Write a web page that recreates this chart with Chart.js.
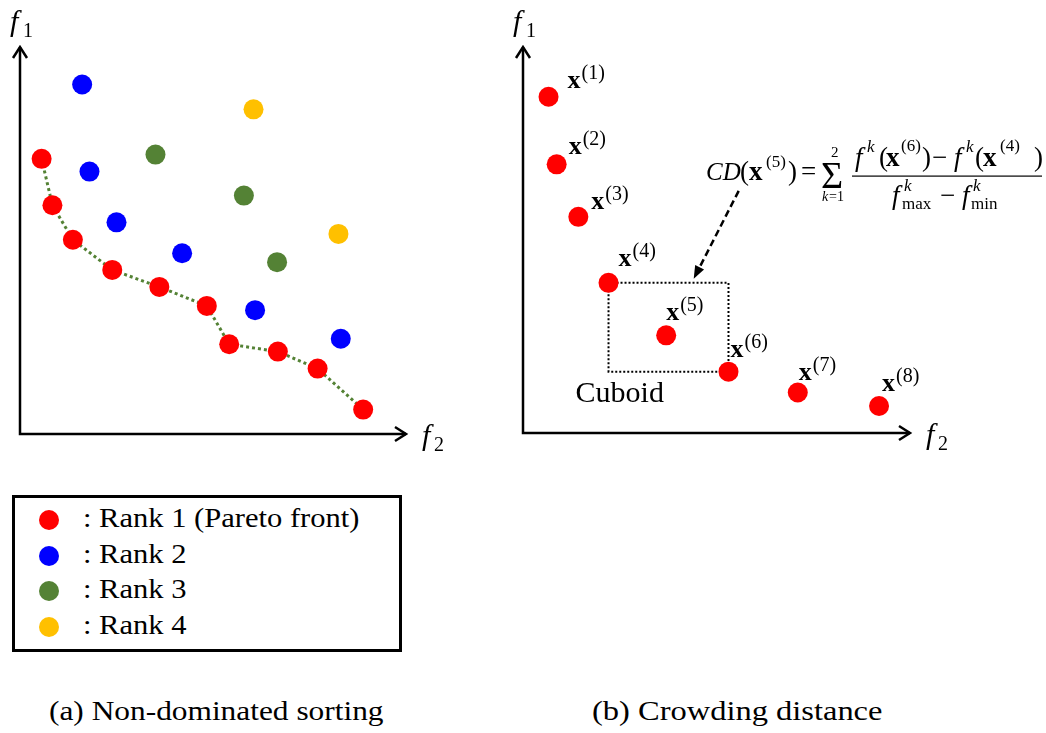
<!DOCTYPE html>
<html>
<head>
<meta charset="utf-8">
<script src="https://cdn.jsdelivr.net/npm/chart.js@4.4.0/dist/chart.umd.min.js"></script>
<style>
  body { margin: 0; background: #fff; }
  #page { position: relative; width: 1046px; height: 733px; overflow: hidden; }
  canvas { position: absolute; top: 0; }
  #c1 { left: 0; }
  #c2 { left: 500px; }
  #legend { position: absolute; left: 12px; top: 495px; width: 390px; height: 157px; border: 3px solid #000; box-sizing: border-box; }
  .row { position: absolute; left: 0; height: 36px; line-height: 36px; font-size: 28px; white-space: nowrap; }
  .dot { position: absolute; left: 24px; top: 10px; width: 20px; height: 20px; border-radius: 50%; }
  .txt { position: absolute; left: 68px; top: 0; transform-origin: 0 0; }
  .cap { position: absolute; top: 697px; font-size: 28px; line-height: 28px; white-space: nowrap; transform-origin: 0 0; }
</style>
</head>
<body>
<div id="page">
  <canvas id="c1" width="500" height="470"></canvas>
  <canvas id="c2" width="546" height="470"></canvas>
  <div id="legend"></div>
  <div class="cap" id="capA" style="left:49px">(a) Non-dominated sorting</div>
  <div class="cap" id="capB" style="left:592px">(b) Crowding distance</div>
</div>
<script>
// (a) non-dominated sorting, values on a 0..10 scale for f2 (x) and f1 (y)
const rank1F2 = [0.56, 0.84, 1.37, 2.39, 3.61, 4.84, 5.42, 6.68, 7.71, 8.89]
const rank1F1 = [7.11, 5.91, 5.02, 4.24, 3.80, 3.31, 2.32, 2.13, 1.69, 0.63]
const rank2F2 = [1.61, 1.80, 2.50, 4.20, 6.09, 8.31]
const rank2F1 = [9.03, 6.78, 5.47, 4.67, 3.20, 2.46]
const rank3F2 = [3.51, 5.80, 6.66]
const rank3F1 = [7.22, 6.16, 4.44]
const rank4F2 = [6.05, 8.25]
const rank4F1 = [8.39, 5.17]
const rankNames = ["Rank 1 (Pareto front)", "Rank 2", "Rank 3", "Rank 4"]

// (b) crowding distance
const crowdF2 = [0.66, 0.87, 1.43, 2.21, 3.70, 5.31, 7.10, 9.20]
const crowdF1 = [8.71, 6.96, 5.60, 3.89, 2.53, 1.59, 1.05, 0.70]
const crowdNames = ["1", "2", "3", "4", "5", "6", "7", "8"]

const rankColors = ["#ff0000", "#0000ff", "#548235", "#ffc000"]

// find a Times-like face if there is one
function pickSerif() {
  const c = document.createElement("canvas").getContext("2d")
  const probe = "Rank 1 (Pareto front) mwil"
  const cands = ["Liberation Serif", "Tinos", "Times New Roman", "Times", "Nimbus Roman", "FreeSerif", "Noto Serif", "DejaVu Serif"]
  for (const f of cands) {
    for (const fb of ["monospace", "sans-serif"]) {
      c.font = "40px " + fb
      const w0 = c.measureText(probe).width
      c.font = '40px "' + f + '", ' + fb
      if (Math.abs(c.measureText(probe).width - w0) > 0.5) return f
    }
  }
  return "serif"
}
const face = pickSerif()
const serif = '"' + face + '", serif'

// horizontal squeeze so the face takes the width of Times
let squeeze = 1
;(function () {
  const c = document.createElement("canvas").getContext("2d")
  c.font = "100px " + serif
  squeeze = Math.min(1.15, 852.6 / c.measureText("Rank 1 (Pareto front)").width)
})()

function text(ctx, t, font, x, y) {
  ctx.font = font + " " + serif
  ctx.save()
  ctx.translate(x, y)
  ctx.scale(squeeze, 1)
  ctx.fillText(t, 0, 0)
  ctx.restore()
  return ctx.measureText(t).width * squeeze
}

function toPoints(xs, ys) {
  let pts = []
  for (let i = 0; i < xs.length; i++) {
    pts.push({ x: xs[i], y: ys[i] })
  }
  return pts
}

// arrow axes with f1 / f2 labels
const arrowAxes = {
  id: "arrowAxes",
  beforeDatasetsDraw(chart) {
    const ctx = chart.ctx
    const a = chart.chartArea
    ctx.save()
    ctx.strokeStyle = "#000"
    ctx.lineWidth = 2.5
    ctx.beginPath()
    ctx.moveTo(a.left, a.top)
    ctx.lineTo(a.left, a.bottom)
    ctx.lineTo(a.right, a.bottom)
    ctx.stroke()
    ctx.beginPath()
    ctx.moveTo(a.left - 7, a.top + 11)
    ctx.lineTo(a.left, a.top)
    ctx.lineTo(a.left + 7, a.top + 11)
    ctx.moveTo(a.right - 11, a.bottom - 7)
    ctx.lineTo(a.right, a.bottom)
    ctx.lineTo(a.right - 11, a.bottom + 7)
    ctx.stroke()

    ctx.fillStyle = "#000"
    text(ctx, "f", "italic 30px", a.left - 10, a.top - 16)
    text(ctx, "f", "italic 30px", a.right + 16, a.bottom + 11)
    text(ctx, "1", "20px", a.left + 3, a.top - 10)
    text(ctx, "2", "20px", a.right + 28, a.bottom + 17)
    ctx.restore()
  }
}

// labels, cuboid, arrow and formula of panel (b)
const labelShift = [[19, -9], [12, -10], [13, -8], [10, -17], [0, -15], [2, -15], [1, -12], [3, -15]]

const formula = [
  ["CD", "italic 25px", 206, 180],
  ["(", "27px", 240, 180],
  ["x", "bold 27px", 249, 180],
  ["(5)", "17px", 266, 167],
  [")", "27px", 288, 180],
  ["=", "27px", 301, 180],
  ["\u03a3", "38px", 321, 188],
  ["2", "15px", 331, 157],
  ["k", "italic 14px", 322, 201],
  ["=1", "14px", 329, 201],
  ["f", "italic 27px", 355, 166],
  ["k", "italic 17px", 367, 152],
  ["(", "27px", 379, 166],
  ["x", "bold 27px", 386, 166],
  ["(6)", "17px", 401, 151],
  [")", "27px", 422, 166],
  ["\u2212", "27px", 432, 166],
  ["f", "italic 27px", 454, 166],
  ["k", "italic 17px", 466, 152],
  ["(", "27px", 475, 166],
  ["x", "bold 27px", 483, 166],
  ["(4)", "17px", 500, 151],
  [")", "27px", 534, 166],
  ["f", "italic 27px", 392, 204],
  ["k", "italic 17px", 404, 191],
  ["max", "17px", 402, 209],
  ["\u2212", "27px", 440, 204],
  ["f", "italic 27px", 462, 204],
  ["k", "italic 17px", 473, 191],
  ["min", "17px", 471, 209]
]

const crowdNotes = {
  id: "crowdNotes",
  beforeDatasetsDraw(chart) {
    const ctx = chart.ctx
    const pts = chart.getDatasetMeta(0).data
    const p4 = pts[3]
    const p6 = pts[5]
    ctx.save()
    // cuboid
    ctx.strokeStyle = "#000"
    ctx.lineWidth = 2
    ctx.setLineDash([2, 2])
    ctx.strokeRect(p4.x, p4.y, p6.x - p4.x, p6.y - p4.y)
    // dashed arrow from formula to cuboid
    const tx = p4.x + 0.71 * (p6.x - p4.x)
    const ty = p4.y - 4
    const sx = tx + 45
    const sy = ty - 88
    ctx.lineWidth = 2.5
    ctx.setLineDash([7, 4])
    ctx.beginPath()
    ctx.moveTo(sx, sy)
    ctx.lineTo(tx + (sx - tx) * 0.1, ty + (sy - ty) * 0.1)
    ctx.stroke()
    ctx.setLineDash([])
    const ang = Math.atan2(ty - sy, tx - sx)
    ctx.fillStyle = "#000"
    ctx.beginPath()
    ctx.moveTo(tx, ty)
    ctx.lineTo(tx - 13 * Math.cos(ang) + 5 * Math.sin(ang), ty - 13 * Math.sin(ang) - 5 * Math.cos(ang))
    ctx.lineTo(tx - 13 * Math.cos(ang) - 5 * Math.sin(ang), ty - 13 * Math.sin(ang) + 5 * Math.cos(ang))
    ctx.closePath()
    ctx.fill()
    // cuboid text
    text(ctx, "Cuboid", "30px", p4.x - 33, p6.y + 30)
    // formula
    for (const [t, f, x, y] of formula) {
      text(ctx, t, f, x, y)
    }
    ctx.fillRect(352, 175.5, 190, 1.2)
    ctx.restore()
  },
  afterDatasetsDraw(chart) {
    const ctx = chart.ctx
    const pts = chart.getDatasetMeta(0).data
    ctx.save()
    ctx.fillStyle = "#000"
    pts.forEach(function (pt, i) {
      const x = pt.x + labelShift[i][0]
      const y = pt.y + labelShift[i][1]
      const w = text(ctx, "x", "bold 26px", x, y)
      text(ctx, "(" + crowdNames[i] + ")", "20px", x + w + 1, y - 9)
    })
    ctx.restore()
  }
}

function baseOptions(pad) {
  return {
    responsive: false,
    animation: false,
    events: [],
    layout: { padding: pad },
    plugins: { legend: { display: false }, tooltip: { enabled: false } },
    scales: {
      x: { type: "linear", min: 0, max: 10, display: false },
      y: { type: "linear", min: 0, max: 10, display: false }
    }
  }
}

function pointSet(label, pts, color) {
  return {
    label: label,
    data: pts,
    pointRadius: 10,
    pointHoverRadius: 10,
    pointBackgroundColor: color,
    pointBorderWidth: 0,
    pointBorderColor: color,
    showLine: false,
    clip: false
  }
}

function drawLeft() {
  let front = pointSet(rankNames[0], toPoints(rank1F2, rank1F1), rankColors[0])
  front.showLine = true
  front.borderColor = "#548235"
  front.borderWidth = 3
  front.borderDash = [3, 3]
  new Chart(document.getElementById("c1"), {
    type: "scatter",
    data: {
      datasets: [
        front,
        pointSet(rankNames[1], toPoints(rank2F2, rank2F1), rankColors[1]),
        pointSet(rankNames[2], toPoints(rank3F2, rank3F1), rankColors[2]),
        pointSet(rankNames[3], toPoints(rank4F2, rank4F1), rankColors[3])
      ]
    },
    options: baseOptions({ left: 20, top: 47, right: 94, bottom: 36 }),
    plugins: [arrowAxes]
  })
}

function drawRight() {
  new Chart(document.getElementById("c2"), {
    type: "scatter",
    data: {
      datasets: [pointSet("x", toPoints(crowdF2, crowdF1), rankColors[0])]
    },
    options: baseOptions({ left: 23, top: 47, right: 136, bottom: 37 }),
    plugins: [arrowAxes, crowdNotes]
  })
}

function fitWidth(el, target) {
  const w = el.offsetWidth
  el.style.transform = "scaleX(" + (target / w) + ")"
  return target / w
}

function buildLegend() {
  const box = document.getElementById("legend")
  let first = null
  for (let i = 0; i < rankNames.length; i++) {
    let row = document.createElement("div")
    row.className = "row"
    row.style.top = (2 + i * 35.7) + "px"
    let dot = document.createElement("div")
    dot.className = "dot"
    dot.style.background = rankColors[i]
    let txt = document.createElement("span")
    txt.className = "txt"
    txt.textContent = ": " + rankNames[i]
    row.appendChild(dot)
    row.appendChild(txt)
    box.appendChild(row)
    if (i == 0) first = txt
  }
  const s = fitWidth(first, 277)
  box.querySelectorAll(".txt").forEach(function (t) {
    t.style.transform = "scaleX(" + s + ")"
  })
}

document.addEventListener("DOMContentLoaded", function () {
  document.getElementById("page").style.fontFamily = serif
  buildLegend()
  fitWidth(document.getElementById("capA"), 335)
  fitWidth(document.getElementById("capB"), 290)
  drawLeft()
  drawRight()
})
</script>
</body>
</html>
